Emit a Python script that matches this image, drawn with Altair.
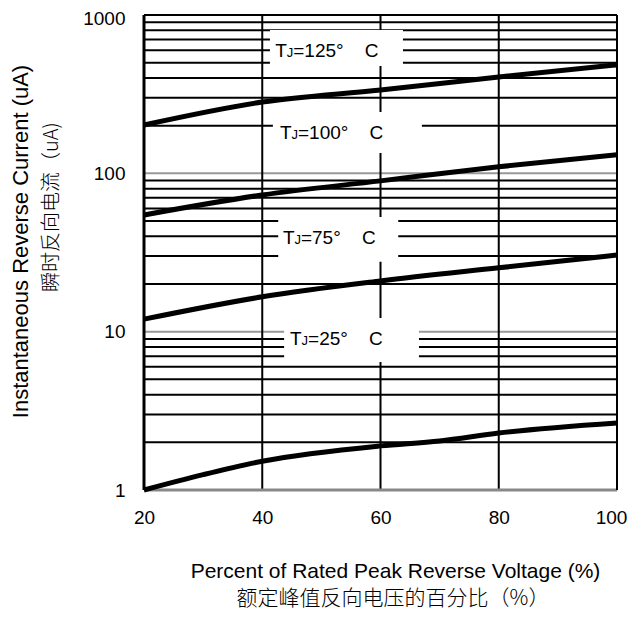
import altair as alt
import pandas as pd

# ---- data ----
v_main = [20, 40, 60, 80, 100]
i_125 = [202, 282, 336, 406, 484]
i_100 = [54.6, 73, 89.6, 110, 131]
i_75 = [12.0, 16.6, 20.9, 25.3, 30.5]
v_25 = [20, 30, 40, 60, 70, 80, 100]
i_25 = [1.0, 1.25, 1.52, 1.90, 2.04, 2.29, 2.65]

x_ticks = [20, 40, 60, 80, 100]
y_ticks = [1, 10, 100, 1000]
grid_black = [2, 3, 4, 5, 6, 7, 8, 9, 20, 30, 40, 50, 60, 70, 80, 90,
              200, 300, 400, 500, 600, 700, 800, 900]
grid_gray = [10, 100]
grid_v = [40, 60, 80]

# label annotations: temperature, text x start, y centre, box x1, x2, y1, y2
lab_temp = ["125", "100", "75", "25"]
lab_x = [42.2, 43.0, 43.5, 44.7]
lab_y = [602, 183, 39.7, 9.12]
box_x1 = [41.3, 41.8, 42.7, 43.7]
box_x2 = [63.8, 67.0, 63.0, 66.5]
box_y1 = [477, 134.6, 27.6, 6.44]
box_y2 = [805, 244, 53.0, 12.2]

W, H = 473, 475
FONT = "Liberation Sans"
CJK = "Noto Sans CJK SC"

rows = []
for name, xs, ys in [("125", v_main, i_125), ("100", v_main, i_100),
                     ("75", v_main, i_75), ("25", v_25, i_25)]:
    for a, b in zip(xs, ys):
        rows.append({"series": name, "v": a, "i": b})
curves = pd.DataFrame(rows)

labels = pd.DataFrame({"t": lab_temp, "x": lab_x, "y": lab_y,
                       "x1": box_x1, "x2": box_x2, "y1": box_y1, "y2": box_y2})
labels["rest"] = "=" + labels["t"] + "°\u00a0\u00a0\u00a0\u00a0C"

xs = alt.Scale(domain=[20, 100], nice=False, zero=False)
ys = alt.Scale(type="log", domain=[1, 1000], nice=False)

base_x_axis = alt.Axis(values=x_ticks, grid=False, domain=False, ticks=False,
                       labelFont=FONT, labelFontSize=19, labelColor="black",
                       labelPadding=18, labelFlush=False,
                       labelOffset=alt.condition("datum.value == 100", alt.value(-6), alt.value(0)),
                       title="Percent of Rated Peak Reverse Voltage (%)",
                       titleFont=FONT, titleFontSize=21, titleFontWeight="normal",
                       titleColor="black", titleX=251, titleY=81,
                       titleAlign="center", titleBaseline="middle")
base_y_axis = alt.Axis(values=y_ticks, grid=False, domain=False, ticks=False,
                       labelFont=FONT, labelFontSize=19, labelColor="black",
                       labelPadding=19, labelFlush=False, format="d",
                       labelOffset=alt.condition("datum.value == 1000", alt.value(3), alt.value(0)),
                       title="Instantaneous Reverse Current (uA)",
                       titleFont=FONT, titleFontSize=22, titleFontWeight="normal",
                       titleColor="black", titleX=-124, titleY=226, titleAngle=270,
                       titleAlign="center", titleBaseline="middle")

axes = alt.Chart(curves).mark_point(opacity=0).encode(
    x=alt.X("v:Q", scale=xs, axis=base_x_axis),
    y=alt.Y("i:Q", scale=ys, axis=base_y_axis),
)

hb = alt.Chart(pd.DataFrame({"g": grid_black})).mark_rule(color="black", strokeWidth=2).encode(
    y=alt.Y("g:Q", scale=ys))
hg = alt.Chart(pd.DataFrame({"g": grid_gray})).mark_rule(color="#999999", strokeWidth=2).encode(
    y=alt.Y("g:Q", scale=ys))
vg = alt.Chart(pd.DataFrame({"g": grid_v})).mark_rule(color="black", strokeWidth=2).encode(
    x=alt.X("g:Q", scale=xs))

boxes = alt.Chart(labels).mark_rect(color="white").encode(
    x=alt.X("x1:Q", scale=xs), x2="x2:Q",
    y=alt.Y("y1:Q", scale=ys), y2="y2:Q")

border_l = alt.Chart(pd.DataFrame({"g": [20]})).mark_rule(color="black", strokeWidth=3).encode(
    x=alt.X("g:Q", scale=xs))
border_r = alt.Chart(pd.DataFrame({"g": [100]})).mark_rule(color="black", strokeWidth=2).encode(
    x=alt.X("g:Q", scale=xs))
border_t = alt.Chart(pd.DataFrame({"g": [1000]})).mark_rule(color="black", strokeWidth=2).encode(
    y=alt.Y("g:Q", scale=ys))
border_b = alt.Chart(pd.DataFrame({"g": [1]})).mark_rule(color="#888888", strokeWidth=3).encode(
    y=alt.Y("g:Q", scale=ys))

lines = alt.Chart(curves).mark_line(color="black", strokeWidth=5, interpolate="monotone").encode(
    x=alt.X("v:Q", scale=xs), y=alt.Y("i:Q", scale=ys), detail="series:N")

txt_T = alt.Chart(labels).mark_text(text="T", font=FONT, fontSize=19, align="left",
                                    baseline="alphabetic", dy=7, color="black").encode(
    x=alt.X("x:Q", scale=xs), y=alt.Y("y:Q", scale=ys))
txt_J = alt.Chart(labels).mark_text(text="J", font=FONT, fontSize=13, align="left",
                                    baseline="alphabetic", dy=7, dx=11.5, color="black").encode(
    x=alt.X("x:Q", scale=xs), y=alt.Y("y:Q", scale=ys))
txt_R = alt.Chart(labels).mark_text(font=FONT, fontSize=19, align="left",
                                    baseline="alphabetic", dy=7, dx=18, color="black").encode(
    x=alt.X("x:Q", scale=xs), y=alt.Y("y:Q", scale=ys), text="rest:N")

cn_x = alt.Chart(pd.DataFrame({"t": ["额定峰值反向电压的百分比（%）"]})).mark_text(
    font=CJK, fontSize=21, fontWeight=300, color="black", align="center", baseline="middle").encode(
    x=alt.value(249), y=alt.value(584), text="t:N")
cn_y = alt.Chart(pd.DataFrame({"t": ["瞬时反向电流（uA)"]})).mark_text(
    font=CJK, fontSize=20, fontWeight=300, color="black", align="center", baseline="middle",
    angle=270).encode(
    x=alt.value(-92), y=alt.value(192), text="t:N")

chart = alt.layer(axes, hb, hg, vg, boxes, border_b, border_l, border_r, border_t,
                  lines, txt_T, txt_J, txt_R, cn_x, cn_y).properties(
    width=W, height=H,
    autosize=alt.AutoSizeParams(type="none"),
    padding={"left": 136, "top": 7, "right": 10, "bottom": 120},
).configure_view(stroke=None).configure(background="white")

chart.save("out.html", embed_options={"renderer": "svg", "actions": False})
